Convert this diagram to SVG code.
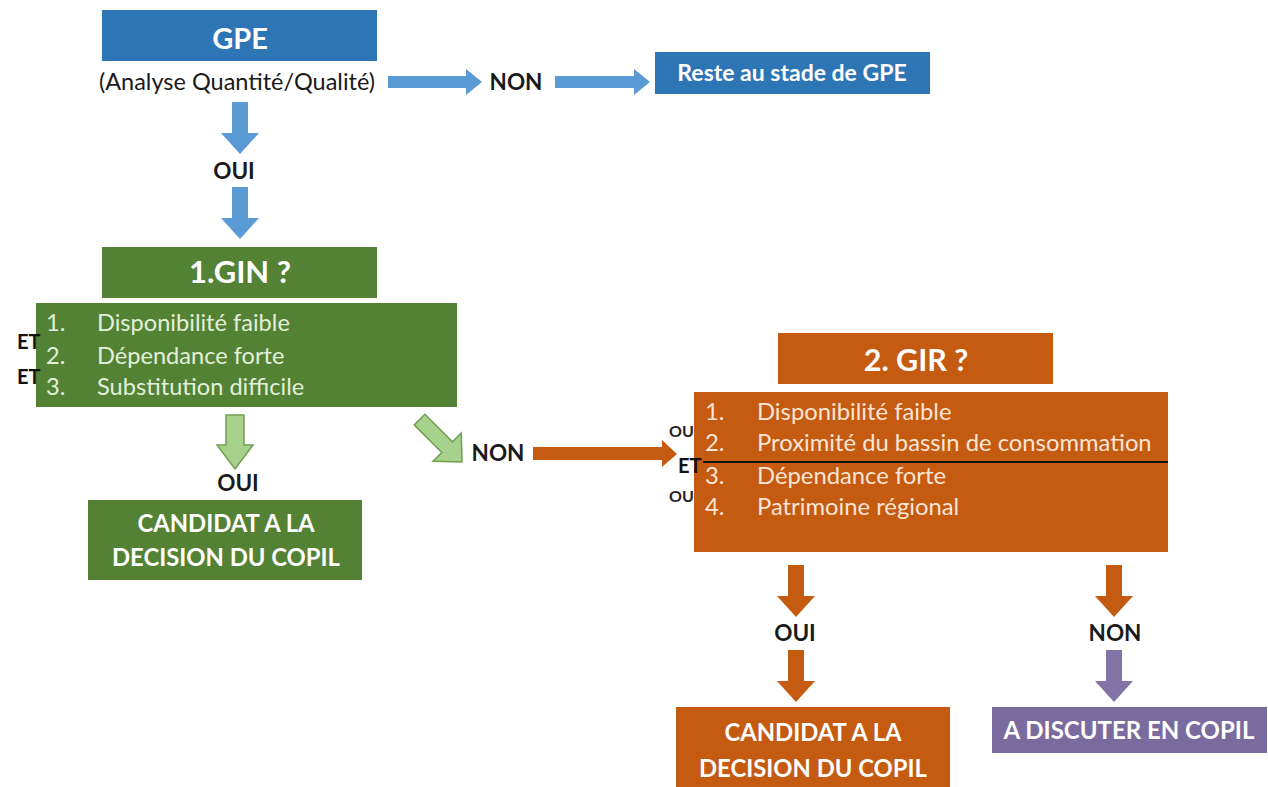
<svg xmlns="http://www.w3.org/2000/svg" width="1268" height="787" viewBox="0 0 1268 787">
<style>
.t{font-family:Lato,"Open Sans","Liberation Sans",sans-serif}
.h{font-weight:bold;fill:#ffffff;text-anchor:middle}
.lbl{font-family:Lato,"Open Sans","Liberation Sans",sans-serif;font-weight:bold;fill:#1a1a1a;text-anchor:middle;font-size:22.5px}
.gi{fill:#e2f0d9;font-size:23.6px}
.oi{fill:#fbe5d6;font-size:23.8px}
.et{font-family:Lato,"Open Sans","Liberation Sans",sans-serif;font-weight:bold;fill:#111;font-size:20px}
.ou{font-family:Lato,"Open Sans","Liberation Sans",sans-serif;font-weight:bold;fill:#222;font-size:16px}
.blue{fill:#2e75b6}
.green{fill:#548235}
.orange{fill:#c55a11}
.purple{fill:#7a6b9e}
.ab{fill:#5b9bd5}
.ao{fill:#c55a11}
.ap{fill:#8274a6}
.ag{fill:#a9d18e;stroke:#70a050;stroke-width:1.5}
</style>
<defs>
<polygon id="down" points="-8,0 8,0 8,31 19,31 0,52 -19,31 -8,31"/>
</defs>
<rect width="1268" height="787" fill="#ffffff"/>

<g id="gpe">
<rect class="blue" x="102" y="10" width="275" height="51"/>
<text class="t h" x="240" y="49" font-size="29">GPE</text>
<text class="t" x="237" y="90" font-size="23.5" fill="#1a1a1a" text-anchor="middle">(Analyse Quantité/Qualité)</text>
</g>

<g id="reste">
<rect class="blue" x="655" y="52" width="275" height="42"/>
<text class="t h" x="792" y="81" font-size="23">Reste au stade de GPE</text>
</g>

<g id="gin">
<rect class="green" x="102" y="247" width="275" height="51"/>
<text class="t h" x="240" y="283" font-size="31">1.GIN ?</text>
</g>

<g id="gin-criteres">
<rect class="green" x="36" y="303" width="421" height="104"/>
<text class="t gi" x="46" y="331">1.</text>
<text class="t gi" x="97" y="331">Disponibilité faible</text>
<text class="t gi" x="46" y="364">2.</text>
<text class="t gi" x="97" y="364">Dépendance forte</text>
<text class="t gi" x="46" y="395">3.</text>
<text class="t gi" x="97" y="395">Substitution difficile</text>
<text class="et" x="17" y="349">ET</text>
<text class="et" x="17" y="384">ET</text>
</g>

<g id="gin-candidat">
<rect class="green" x="88" y="500" width="274" height="80"/>
<text class="t h" x="226" y="532" font-size="23.8">CANDIDAT A LA</text>
<text class="t h" x="226" y="566" font-size="23.8">DECISION DU COPIL</text>
</g>

<g id="gir">
<rect class="orange" x="778" y="333" width="275" height="51"/>
<text class="t h" x="916" y="371" font-size="30.5">2. GIR ?</text>
</g>

<g id="gir-criteres">
<text class="ou" x="669" y="437">OU</text>
<text class="ou" x="669" y="502">OU</text>
<rect class="orange" x="694" y="392" width="474" height="160"/>
<text class="t oi" x="705" y="420">1.</text>
<text class="t oi" x="757" y="420">Disponibilité faible</text>
<text class="t oi" x="705" y="451">2.</text>
<text class="t oi" x="757" y="451">Proximité du bassin de consommation</text>
<text class="t oi" x="705" y="484">3.</text>
<text class="t oi" x="757" y="484">Dépendance forte</text>
<text class="t oi" x="705" y="515">4.</text>
<text class="t oi" x="757" y="515">Patrimoine régional</text>
<line x1="703" y1="462" x2="1168" y2="462" stroke="#111" stroke-width="2"/>
<text class="et" x="678" y="473" font-size="20">ET</text>
</g>

<g id="gir-candidat">
<rect class="orange" x="676" y="707" width="274" height="80"/>
<text class="t h" x="813" y="741" font-size="23.8">CANDIDAT A LA</text>
<text class="t h" x="813" y="777" font-size="23.8">DECISION DU COPIL</text>
</g>

<g id="discuter">
<rect class="purple" x="992" y="707" width="275" height="46"/>
<text class="t h" x="1129" y="739" font-size="24">A DISCUTER EN COPIL</text>
</g>

<g id="connectors">
<polygon class="ab" points="388,76 466,76 466,69 482,82 466,95 466,88 388,88"/>
<polygon class="ab" points="555,76 634,76 634,69 650,82 634,95 634,88 555,88"/>
<use href="#down" class="ab" x="240" y="102"/>
<use href="#down" class="ab" x="240" y="187"/>
<polygon class="ag" points="226,415 244,415 244,445 253,445 235,469 217,445 226,445"/>
<g transform="translate(462,462) rotate(-45)">
<polygon class="ag" points="-7.5,-60 7.5,-60 7.5,-21 20,-21 0,0 -20,-21 -7.5,-21"/>
</g>
<polygon class="ao" points="533,447 662,447 662,440 677,454 662,467 662,460 533,460"/>
<use href="#down" class="ao" x="796" y="565"/>
<use href="#down" class="ao" x="796" y="650"/>
<use href="#down" class="ao" x="1114" y="565"/>
<use href="#down" class="ap" x="1114" y="650"/>
</g>

<g id="labels">
<text class="lbl" x="516" y="90">NON</text>
<text class="lbl" x="234" y="179">OUI</text>
<text class="lbl" x="238" y="491">OUI</text>
<text class="lbl" x="498" y="461">NON</text>
<text class="lbl" x="795" y="641">OUI</text>
<text class="lbl" x="1115" y="641">NON</text>
</g>
</svg>
